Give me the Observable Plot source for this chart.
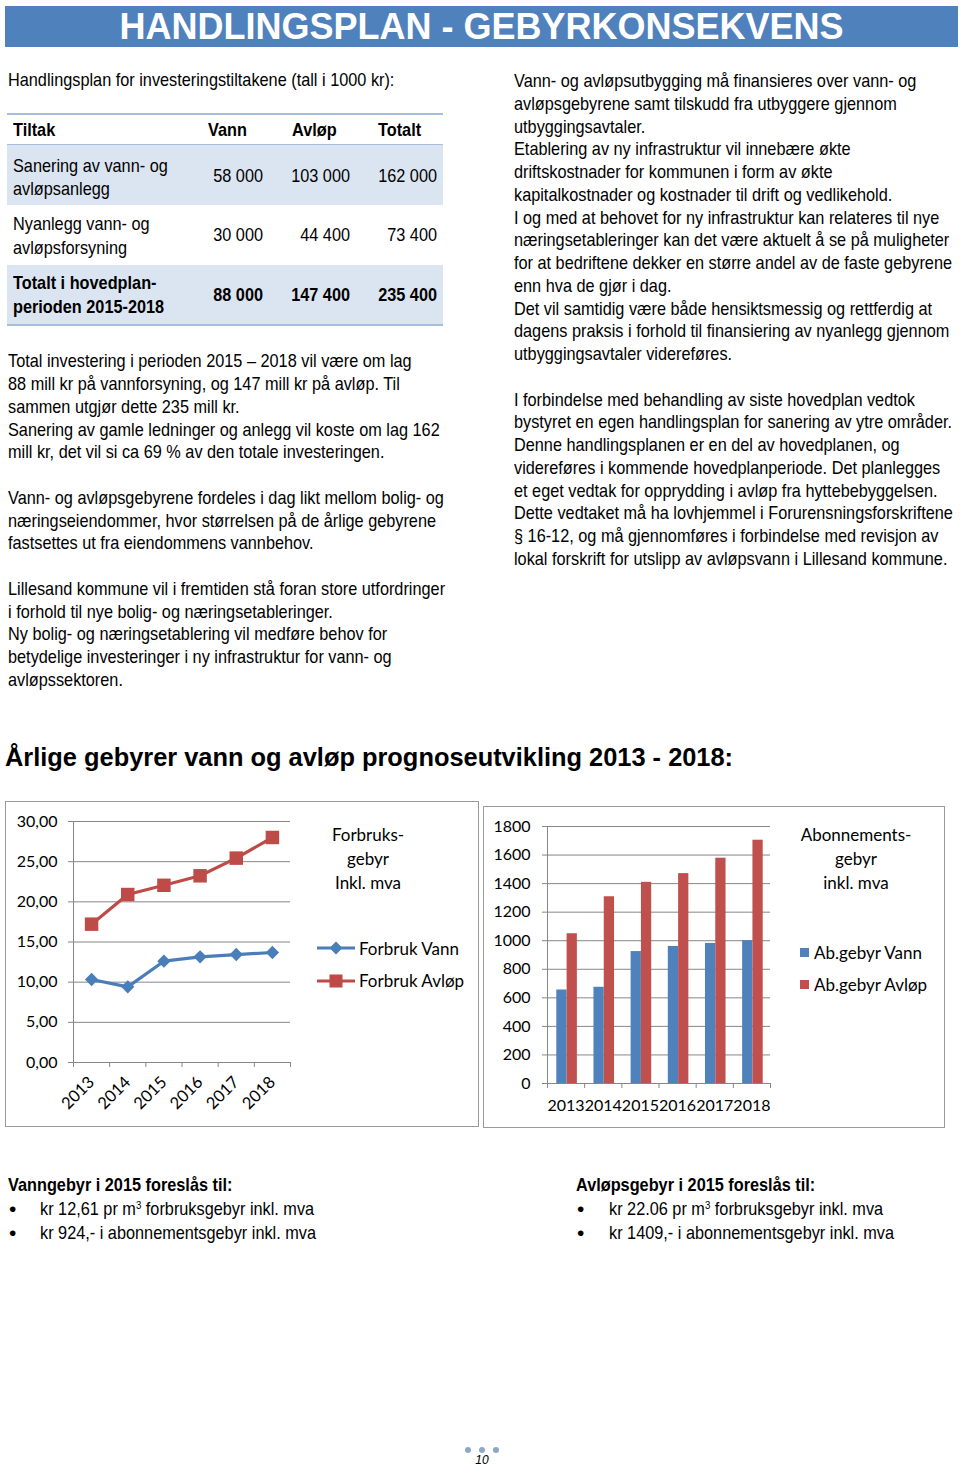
<!DOCTYPE html>
<html><head><meta charset="utf-8">
<script src="https://cdn.jsdelivr.net/npm/d3@7"></script>
<script src="https://cdn.jsdelivr.net/npm/@observablehq/plot@0.6"></script>
<style>
body{margin:0;background:#fff;}
#page{position:relative;width:960px;height:1467px;overflow:hidden;font-family:"Liberation Sans Narrow","Liberation Sans",Arial,sans-serif;color:#000;}
.abs{position:absolute;white-space:nowrap;}
.txt{font-size:18.5px;line-height:22.75px;}
.nar{transform:scaleX(0.88);transform-origin:0 50%;}
.narR{transform:scaleX(0.88);transform-origin:100% 50%;}
#bar{position:absolute;left:5px;top:6px;width:953px;height:41px;background:#4F81BD;}
#bartxt{position:absolute;left:5px;top:6px;width:953px;color:#fff;font-weight:bold;font-size:36px;line-height:41px;text-align:center;white-space:nowrap;}
.cell{position:absolute;font-size:18.5px;line-height:23.5px;white-space:nowrap;}
.num{text-align:right;}
.box{position:absolute;border:1.5px solid #9a9a9a;box-sizing:border-box;}
.leg{position:absolute;font-family:Lato,"Open Sans",sans-serif;font-size:17px;white-space:nowrap;}
.legtitle{text-align:center;line-height:24px;}
.bul{position:absolute;font-size:18.5px;white-space:nowrap;line-height:24px;}
.dot{position:absolute;font-size:21px;line-height:20px;}
sup{font-size:11px;line-height:0;vertical-align:0;position:relative;top:-0.55em;}
</style></head>
<body><div id="page"></div>
<script>
// ---------- data ----------
const pageTitle = "HANDLINGSPLAN - GEBYRKONSEKVENS";
const tableIntro = "Handlingsplan for investeringstiltakene (tall i 1000 kr):";
const tableColumns = ["Tiltak", "Vann", "Avløp", "Totalt"];
const tableRowLabels = [["Sanering av vann- og", "avløpsanlegg"], ["Nyanlegg vann- og", "avløpsforsyning"], ["Totalt i hovedplan-", "perioden 2015-2018"]];
const tableVann = ["58 000", "30 000", "88 000"];
const tableAvlop = ["103 000", "44 400", "147 400"];
const tableTotalt = ["162 000", "73 400", "235 400"];

const leftText = [
  "Total investering i perioden 2015 – 2018 vil være om lag",
  "88 mill kr på vannforsyning, og 147 mill kr på avløp. Til",
  "sammen utgjør dette 235 mill kr.",
  "Sanering av gamle ledninger og anlegg vil koste om lag 162",
  "mill kr, det vil si ca 69 % av den totale investeringen.",
  "",
  "Vann- og avløpsgebyrene fordeles i dag likt mellom bolig- og",
  "næringseiendommer, hvor størrelsen på de årlige gebyrene",
  "fastsettes ut fra eiendommens vannbehov.",
  "",
  "Lillesand kommune vil i fremtiden stå foran store utfordringer",
  "i forhold til nye bolig- og næringsetableringer.",
  "Ny bolig- og næringsetablering vil medføre behov for",
  "betydelige investeringer i ny infrastruktur for vann- og",
  "avløpssektoren."
];
const rightText = [
  "Vann- og avløpsutbygging må finansieres over vann- og",
  "avløpsgebyrene samt tilskudd fra utbyggere gjennom",
  "utbyggingsavtaler.",
  "Etablering av ny infrastruktur vil innebære økte",
  "driftskostnader for kommunen i form av økte",
  "kapitalkostnader og kostnader til drift og vedlikehold.",
  "I og med at behovet for ny infrastruktur kan relateres til nye",
  "næringsetableringer kan det være aktuelt å se på muligheter",
  "for at bedriftene dekker en større andel av de faste gebyrene",
  "enn hva de gjør i dag.",
  "Det vil samtidig være både hensiktsmessig og rettferdig at",
  "dagens praksis i forhold til finansiering av nyanlegg gjennom",
  "utbyggingsavtaler videreføres.",
  "",
  "I forbindelse med behandling av siste hovedplan vedtok",
  "bystyret en egen handlingsplan for sanering av ytre områder.",
  "Denne handlingsplanen er en del av hovedplanen, og",
  "videreføres i kommende hovedplanperiode. Det planlegges",
  "et eget vedtak for opprydding i avløp fra hyttebebyggelsen.",
  "Dette vedtaket må ha lovhjemmel i Forurensningsforskriftene",
  "§ 16-12, og må gjennomføres i forbindelse med revisjon av",
  "lokal forskrift for utslipp av avløpsvann i Lillesand kommune."
];
const chartsHeading = "Årlige gebyrer vann og avløp prognoseutvikling 2013 - 2018:";

const years = [2013, 2014, 2015, 2016, 2017, 2018];
const forbrukVann = [10.33, 9.42, 12.61, 13.15, 13.44, 13.69];
const forbrukAvlop = [17.22, 20.91, 22.06, 23.24, 25.44, 28.01];
const forbrukTicks = [0, 5, 10, 15, 20, 25, 30];
const forbrukSeries = ["Forbruk Vann", "Forbruk Avløp"];
const forbrukTitle = ["Forbruks-", "gebyr", "Inkl. mva"];

const abVann = [655, 674, 924, 960, 981, 1000];
const abAvlop = [1049, 1308, 1409, 1470, 1578, 1704];
const abTicks = [0, 200, 400, 600, 800, 1000, 1200, 1400, 1600, 1800];
const abSeries = ["Ab.gebyr Vann", "Ab.gebyr Avløp"];
const abTitle = ["Abonnements-", "gebyr", "inkl. mva"];

const vannHeading = "Vanngebyr i 2015 foreslås til:";
const vannBullets = ["kr 12,61 pr m<sup>3</sup> forbruksgebyr inkl. mva", "kr 924,- i abonnementsgebyr inkl. mva"];
const avlopHeading = "Avløpsgebyr i 2015 foreslås til:";
const avlopBullets = ["kr 22.06 pr m<sup>3</sup> forbruksgebyr inkl. mva", "kr 1409,- i abonnementsgebyr inkl. mva"];
const pageNumber = "10";

// ---------- layout helpers ----------
const page = document.getElementById("page");
function add(html, style, cls = "abs") {
  const d = document.createElement("div");
  d.className = cls;
  d.innerHTML = html;
  Object.assign(d.style, style);
  page.appendChild(d);
  return d;
}
const px = v => v + "px";

// header
add("", {}, "").id = "bar";
add(pageTitle, {}, "").id = "bartxt";

// intro
add(tableIntro, {left: px(8), top: px(69)}, "abs txt nar");

// table
const shade = "#DBE5F1", lineC = "#A7BEDB";
add("", {left: px(7), top: px(113), width: px(436), height: px(2), background: lineC});
add("", {left: px(7), top: px(144), width: px(436), height: px(1), background: lineC});
add("", {left: px(7), top: px(145), width: px(436), height: px(60), background: shade});
add("", {left: px(7), top: px(265), width: px(436), height: px(59), background: shade});
add("", {left: px(7), top: px(324), width: px(436), height: px(2), background: lineC});
const headLeft = [13, 208, 292, 378];
tableColumns.forEach((c, i) => add(c, {left: px(headLeft[i]), top: px(118), fontWeight: "bold"}, "cell nar"));
const rowTop = [153.5, 212, 271];
const valRight = [263, 350, 437];
tableRowLabels.forEach((lines, r) => {
  const bold = r === 2 ? "bold" : "normal";
  add(lines.join("<br>"), {left: px(13), top: px(rowTop[r]), fontWeight: bold}, "cell nar");
  [tableVann, tableAvlop, tableTotalt].forEach((col, c) => {
    add(col[r], {left: px(valRight[c] - 90), width: px(90), top: px([163.5, 223, 283][r]), fontWeight: bold}, "cell num narR");
  });
});

// paragraphs
add(leftText.map(s => s || "&nbsp;").join("<br>"), {left: px(8), top: px(350.3)}, "abs txt nar");
add(rightText.map(s => s || "&nbsp;").join("<br>"), {left: px(514), top: px(70)}, "abs txt nar");

// charts heading
add(chartsHeading, {left: px(5), top: px(741), fontSize: "25.4px", fontWeight: "bold", lineHeight: "32px"});

// ---------- chart 1: forbruksgebyr ----------
const lineColors = ["#4A7EBB", "#BE4B48"];
const lineData = years.flatMap((y, i) => [
  {year: y, serie: forbrukSeries[0], value: forbrukVann[i]},
  {year: y, serie: forbrukSeries[1], value: forbrukAvlop[i]}
]);
const boundaries = [years[0] - 0.5, ...years.map(y => y + 0.5)];
const axisGray = "#868686";
const chartFont = {fontFamily: "Lato, 'Open Sans', sans-serif", fontSize: "16px", color: "#000", background: "transparent", overflow: "visible"};

add("", {left: px(5), top: px(801), width: px(474), height: px(326)}, "box");
const c1 = Plot.plot({
  width: 474, height: 326,
  marginLeft: 68, marginRight: 189, marginTop: 20, marginBottom: 65,
  style: chartFont,
  x: {domain: [boundaries[0], boundaries[boundaries.length - 1]]},
  y: {domain: [forbrukTicks[0], forbrukTicks[forbrukTicks.length - 1]]},
  color: {domain: forbrukSeries, range: lineColors},
  marks: [
    Plot.gridY(forbrukTicks, {stroke: axisGray, strokeOpacity: 1}),
    Plot.axisY(forbrukTicks, {tickSize: 5, tickPadding: 11, stroke: axisGray, tickFormat: d => d.toFixed(2).replace(".", ","), label: null}),
    Plot.ruleX([boundaries[0]], {stroke: axisGray}),
    Plot.ruleY([0], {stroke: axisGray}),
    Plot.axisX(boundaries, {tickSize: 5, stroke: axisGray, tickFormat: () => "", label: null}),
    Plot.axisX(years, {tickSize: 0, tickPadding: 17, tickRotate: -45, tickFormat: d => String(d), label: null, fontSize: 16.5}),
    Plot.line(lineData, {x: "year", y: "value", z: "serie", stroke: "serie", strokeWidth: 3.2}),
    Plot.dot(lineData.filter(d => d.serie === forbrukSeries[0]), {x: "year", y: "value", symbol: "diamond2", fill: lineColors[0], stroke: "none", r: 6}),
    Plot.dot(lineData.filter(d => d.serie === forbrukSeries[1]), {x: "year", y: "value", symbol: "square", fill: lineColors[1], stroke: "none", r: 7.6})
  ]
});
Object.assign(c1.style, {position: "absolute", left: px(5), top: px(801)});
page.appendChild(c1);

// legend 1
add(forbrukTitle.join("<br>"), {left: px(308), top: px(823), width: px(120)}, "leg legtitle");
const legSym1 = [
  `<svg width="38" height="14" style="vertical-align:middle"><line x1="0" y1="7" x2="38" y2="7" stroke="${lineColors[0]}" stroke-width="3.2"/><path d="M19,0.5L25.5,7L19,13.5L12.5,7Z" fill="${lineColors[0]}"/></svg>`,
  `<svg width="38" height="14" style="vertical-align:middle"><line x1="0" y1="7" x2="38" y2="7" stroke="${lineColors[1]}" stroke-width="3.2"/><rect x="12.5" y="0.5" width="13" height="13" fill="${lineColors[1]}"/></svg>`
];
forbrukSeries.forEach((s, i) => {
  add(`${legSym1[i]}<span style="vertical-align:middle;margin-left:4px">${s}</span>`, {left: px(317), top: px([935.5, 968][i])}, "leg");
});

// ---------- chart 2: abonnementsgebyr ----------
const barColors = ["#4F81BD", "#C0504D"];
const barData = years.flatMap((y, i) => [
  {year: y, serie: abSeries[0], value: abVann[i]},
  {year: y, serie: abSeries[1], value: abAvlop[i]}
]);
add("", {left: px(483), top: px(806), width: px(462), height: px(322)}, "box");
const c2 = Plot.plot({
  width: 462, height: 322,
  marginLeft: 64, marginRight: 175, marginTop: 20, marginBottom: 45,
  style: chartFont,
  x: {domain: [boundaries[0], boundaries[boundaries.length - 1]]},
  y: {domain: [abTicks[0], abTicks[abTicks.length - 1]]},
  marks: [
    Plot.gridY(abTicks, {stroke: axisGray, strokeOpacity: 1}),
    Plot.axisY(abTicks, {tickSize: 5, tickPadding: 12, stroke: axisGray, tickFormat: d => String(d), label: null}),
    Plot.rect(barData.filter(d => d.serie === abSeries[0]), {x1: d => d.year - 0.5, x2: d => d.year + 0.5, y1: 0, y2: "value", fill: barColors[0], insetLeft: 9.3, insetRight: 17.6}),
    Plot.rect(barData.filter(d => d.serie === abSeries[1]), {x1: d => d.year - 0.5, x2: d => d.year + 0.5, y1: 0, y2: "value", fill: barColors[1], insetLeft: 19.6, insetRight: 7.3}),
    Plot.ruleX([boundaries[0]], {stroke: axisGray}),
    Plot.ruleY([0], {stroke: axisGray}),
    Plot.axisX(boundaries, {tickSize: 5, stroke: axisGray, tickFormat: () => "", label: null}),
    Plot.axisX(years, {tickSize: 0, tickPadding: 16.5, tickFormat: d => String(d), label: null})
  ]
});
Object.assign(c2.style, {position: "absolute", left: px(483), top: px(806)});
page.appendChild(c2);

// legend 2
add(abTitle.join("<br>"), {left: px(786), top: px(823), width: px(140)}, "leg legtitle");
abSeries.forEach((s, i) => {
  add(`<svg width="9" height="9" style="vertical-align:middle"><rect width="9" height="9" fill="${barColors[i]}"/></svg><span style="vertical-align:middle;margin-left:5px">${s}</span>`, {left: px(800), top: px([939.5, 971.5][i])}, "leg");
});

// ---------- bottom bullets ----------
add(vannHeading, {left: px(8), top: px(1173), fontWeight: "bold"}, "bul nar");
vannBullets.forEach((b, i) => {
  add("•", {left: px(9), top: px(1199 + i * 24)}, "dot");
  add(b, {left: px(40), top: px(1197 + i * 24)}, "bul nar");
});
add(avlopHeading, {left: px(576), top: px(1173), fontWeight: "bold"}, "bul nar");
avlopBullets.forEach((b, i) => {
  add("•", {left: px(577), top: px(1199 + i * 24)}, "dot");
  add(b, {left: px(609), top: px(1197 + i * 24)}, "bul nar");
});

// page number
add(`<svg width="40" height="8"><circle cx="5" cy="4" r="3" fill="#8EA7C6"/><circle cx="19" cy="4" r="3" fill="#8EA7C6"/><circle cx="33" cy="4" r="3" fill="#8EA7C6"/></svg>`, {left: px(463), top: px(1445), lineHeight: "8px"});
add(pageNumber, {left: px(462), width: px(40), top: px(1453), textAlign: "center", fontStyle: "italic", fontSize: "12px", fontFamily: "'Liberation Sans', Arial, sans-serif"});
</script>
</body></html>
